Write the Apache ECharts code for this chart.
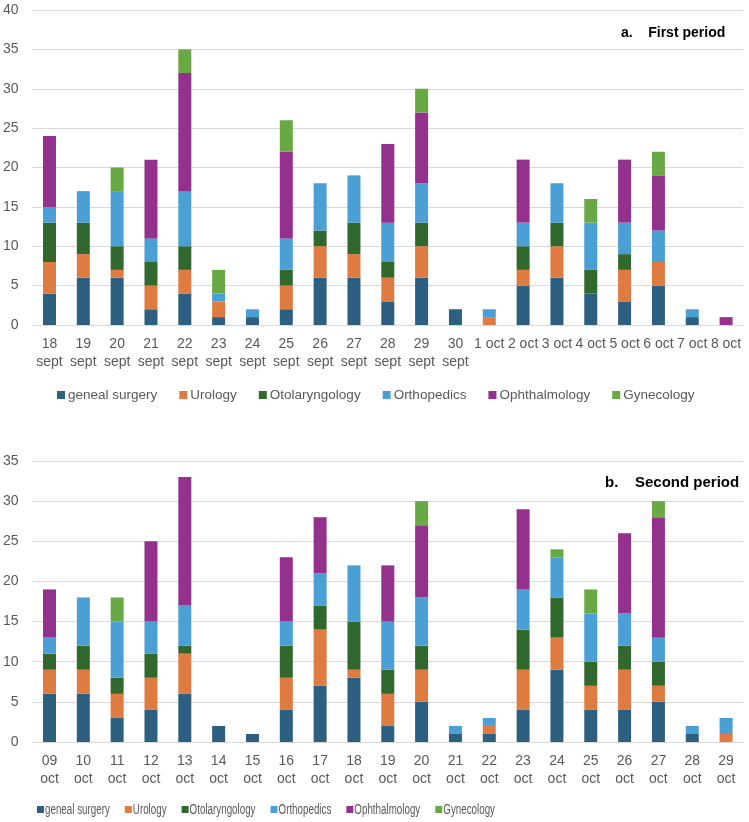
<!DOCTYPE html>
<html><head><meta charset="utf-8">
<script src="https://cdn.jsdelivr.net/npm/echarts@6/dist/echarts.min.js"></script>
<style>html,body{margin:0;padding:0;background:#fff}#c{width:749px;height:822px}</style>
</head><body><div id="c"></div>
<script>
const seriesNames = ['geneal surgery','Urology','Otolaryngology','Orthopedics','Ophthalmology','Gynecology'];
const colors = ['#2d5f80','#df7b41','#31682d','#4a9fd5','#93318d','#69a945'];

const catsA = ['18\nsept','19\nsept','20\nsept','21\nsept','22\nsept','23\nsept','24\nsept','25\nsept','26\nsept','27\nsept','28\nsept','29\nsept','30\nsept','1 oct','2 oct','3 oct','4 oct','5 oct','6 oct','7 oct','8 oct'];
const surgeryA = [4,6,6,2,4,1,1,2,6,6,3,6,2,0,5,6,4,3,5,1,0];
const urologyA = [4,3,1,3,3,2,0,3,4,3,3,4,0,1,2,4,0,4,3,0,0];
const otoA     = [5,4,3,3,3,0,0,2,2,4,2,3,0,0,3,3,3,2,0,0,0];
const orthoA   = [2,4,7,3,7,1,1,4,6,6,5,5,0,1,3,5,6,4,4,1,0];
const ophA     = [9,0,0,10,15,0,0,11,0,0,10,9,0,0,8,0,0,8,7,0,1];
const gynA     = [0,0,3,0,3,3,0,4,0,0,0,3,0,0,0,0,3,0,3,0,0];

const catsB = ['09\noct','10\noct','11\noct','12\noct','13\noct','14\noct','15\noct','16\noct','17\noct','18\noct','19\noct','20\noct','21\noct','22\noct','23\noct','24\noct','25\noct','26\noct','27\noct','28\noct','29\noct'];
const surgeryB = [6,6,3,4,6,2,1,4,7,8,2,5,1,1,4,9,4,4,5,1,0];
const urologyB = [3,3,3,4,5,0,0,4,7,1,4,4,0,1,5,4,3,5,2,0,1];
const otoB     = [2,3,2,3,1,0,0,4,3,6,3,3,0,0,5,5,3,3,3,0,0];
const orthoB   = [2,6,7,4,5,0,0,3,4,7,6,6,1,1,5,5,6,4,3,1,2];
const ophB     = [6,0,0,10,16,0,0,8,7,0,7,9,0,0,10,0,0,10,15,0,0];
const gynB     = [0,0,3,0,0,0,0,0,0,0,0,3,0,0,0,1,3,0,2,0,0];

const dataA = [surgeryA,urologyA,otoA,orthoA,ophA,gynA];
const dataB = [surgeryB,urologyB,otoB,orthoB,ophB,gynB];

const FONT = 'Liberation Sans, Arial, sans-serif';
const chart = echarts.init(document.getElementById('c'), null, {renderer:'canvas'});
const axisFont = {color:'#595959', fontSize:14, fontFamily:FONT};
function xAx(cats, idx){
  return {type:'category', gridIndex:idx, data:cats,
    axisLine:{show:true, lineStyle:{color:'#d9d9d9', width:1}}, axisTick:{show:false},
    axisLabel:Object.assign({interval:0, margin:10, lineHeight:18}, axisFont)};
}
function yAx(max, idx){
  return {type:'value', gridIndex:idx, min:0, max:max, interval:5,
    axisLine:{show:false}, axisTick:{show:false},
    splitLine:{lineStyle:{color:'#d9d9d9', width:1}},
    axisLabel:Object.assign({margin:14}, axisFont)};
}
const series = [];
seriesNames.forEach((n,i)=>{
  series.push({name:n, type:'bar', stack:'a', xAxisIndex:0, yAxisIndex:0, barWidth:13,
    itemStyle:{color:colors[i]}, data:dataA[i]});
});
seriesNames.forEach((n,i)=>{
  series.push({name:n, type:'bar', stack:'b', xAxisIndex:1, yAxisIndex:1, barWidth:13,
    itemStyle:{color:colors[i]}, data:dataB[i]});
});

// bottom legend: horizontally condensed text (as in the reference)
const cv = document.createElement('canvas').getContext('2d');
cv.font = '14px ' + FONT;
const sx = 0.70;
const legendChildren = [];
let cx = 37;
seriesNames.forEach((n,i)=>{
  legendChildren.push({type:'rect', shape:{x:cx, y:806, width:7, height:7}, style:{fill:colors[i]}});
  const tx = cx + 8;
  legendChildren.push({type:'text', x:tx, y:810, scaleX:sx, scaleY:1,
    style:{text:n, fill:'#595959', font:'14px ' + FONT, verticalAlign:'middle'}});
  cx = tx + cv.measureText(n).width*sx + 15;
});

chart.setOption({
  animation:false,
  color:colors,
  title:[
    {text:'a.    First period', left:616, top:21, textStyle:{fontSize:14, fontWeight:'bold', color:'#000', fontFamily:FONT}},
    {text:'b.    Second period', left:600, top:470, textStyle:{fontSize:15, fontWeight:'bold', color:'#000', fontFamily:FONT}}
  ],
  legend:[
    {data:seriesNames, left:52, top:383, itemWidth:8, itemHeight:8, itemGap:22, icon:'rect',
      textStyle:{color:'#595959', fontSize:13.5, fontFamily:FONT, padding:[0,0,0,-2]}}
  ],
  graphic:[{type:'group', children:legendChildren, silent:true}],
  grid:[
    {left:32, right:6, top:10, height:315},
    {left:32, right:6, top:461, height:281}
  ],
  xAxis:[xAx(catsA,0), xAx(catsB,1)],
  yAxis:[yAx(40,0), yAx(35,1)],
  series:series
});
</script></body></html>
